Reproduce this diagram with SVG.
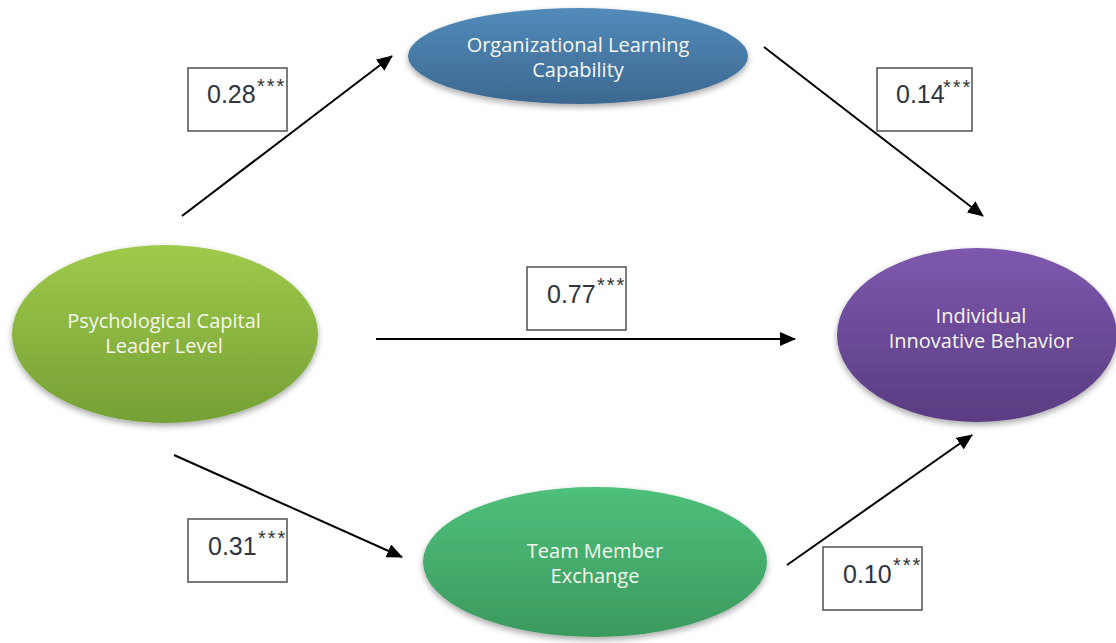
<svg xmlns="http://www.w3.org/2000/svg" width="1116" height="643" viewBox="0 0 1116 643">
  <defs>
    <linearGradient id="gBlue" x1="0" y1="0" x2="0" y2="1">
      <stop offset="0" stop-color="#528bba"/>
      <stop offset="1" stop-color="#3c6890"/>
    </linearGradient>
    <linearGradient id="gLime" x1="0" y1="0" x2="0" y2="1">
      <stop offset="0" stop-color="#9fca4b"/>
      <stop offset="1" stop-color="#75a035"/>
    </linearGradient>
    <linearGradient id="gPurple" x1="0" y1="0" x2="0" y2="1">
      <stop offset="0" stop-color="#7e58ad"/>
      <stop offset="1" stop-color="#5a3c82"/>
    </linearGradient>
    <linearGradient id="gGreen" x1="0" y1="0" x2="0" y2="1">
      <stop offset="0" stop-color="#4fc07b"/>
      <stop offset="1" stop-color="#3b995d"/>
    </linearGradient>
    <filter id="shadow" x="-10%" y="-10%" width="120%" height="130%">
      <feGaussianBlur in="SourceAlpha" stdDeviation="3"/>
      <feOffset dx="0" dy="3" result="b"/>
      <feComponentTransfer><feFuncA type="linear" slope="0.35"/></feComponentTransfer>
      <feMerge><feMergeNode/><feMergeNode in="SourceGraphic"/></feMerge>
    </filter>
    <marker id="arrow" markerUnits="userSpaceOnUse" markerWidth="16" markerHeight="14" refX="15" refY="7" orient="auto">
      <path d="M0,0 L16,7 L0,14 Z" fill="#000"/>
    </marker>
    <style>
      .node-label { font-family: "Open Sans", "Liberation Sans", sans-serif; font-size: 20px; fill: #f6f6f0; text-anchor: middle; }
      .box { fill: #fff; stroke: #5a5a5a; stroke-width: 1.6; }
      .coef { font-family: "Liberation Sans", "Open Sans", sans-serif; font-size: 25px; fill: #2f3440; }
      .star { font-family: "Liberation Sans", sans-serif; font-size: 20px; fill: #333; letter-spacing: 2px; }
      .edge { stroke: #000; stroke-width: 2; fill: none; marker-end: url(#arrow); }
    </style>
  </defs>

  <rect width="1116" height="643" fill="#fff"/>

  <!-- connectors -->
  <g id="connectors">
    <line class="edge" x1="182" y1="216" x2="392" y2="56"/>
    <line class="edge" x1="764" y1="47" x2="983" y2="216"/>
    <line class="edge" x1="376" y1="339" x2="795" y2="339"/>
    <line class="edge" x1="174" y1="455" x2="402" y2="557"/>
    <line class="edge" x1="787" y1="565" x2="972" y2="435"/>
  </g>

  <!-- path coefficients (value + significance stars as superscript) -->
  <g id="coef-olc">
    <rect class="box" x="188" y="68" width="99" height="63"/>
    <text class="coef" x="207" y="103">0.28</text>
    <text class="star" x="257" y="93">***</text>
  </g>
  <g id="coef-iib">
    <rect class="box" x="877" y="68" width="95" height="63"/>
    <text class="coef" x="896" y="103">0.14</text>
    <text class="star" x="943" y="94">***</text>
  </g>
  <g id="coef-direct">
    <rect class="box" x="527" y="267" width="99" height="63"/>
    <text class="coef" x="547" y="303">0.77</text>
    <text class="star" x="597" y="292">***</text>
  </g>
  <g id="coef-tmx">
    <rect class="box" x="188" y="519" width="99" height="63"/>
    <text class="coef" x="208" y="555">0.31</text>
    <text class="star" x="258" y="545">***</text>
  </g>
  <g id="coef-tmx-iib">
    <rect class="box" x="823" y="547" width="99" height="63"/>
    <text class="coef" x="843" y="583">0.10</text>
    <text class="star" x="893" y="572">***</text>
  </g>

  <!-- nodes -->
  <g id="node-olc">
    <ellipse cx="578" cy="56" rx="170" ry="48" fill="url(#gBlue)" filter="url(#shadow)"/>
    <text class="node-label" x="578" y="52">Organizational Learning</text>
    <text class="node-label" x="578" y="77">Capability</text>
  </g>
  <g id="node-pcl">
    <ellipse cx="165" cy="334" rx="153" ry="89" fill="url(#gLime)" filter="url(#shadow)"/>
    <text class="node-label" x="164" y="328">Psychological Capital</text>
    <text class="node-label" x="164" y="353">Leader Level</text>
  </g>
  <g id="node-iib">
    <ellipse cx="977" cy="335" rx="140" ry="87" fill="url(#gPurple)" filter="url(#shadow)"/>
    <text class="node-label" x="981" y="323">Individual</text>
    <text class="node-label" x="981" y="348">Innovative Behavior</text>
  </g>
  <g id="node-tmx">
    <ellipse cx="595" cy="562" rx="172" ry="75" fill="url(#gGreen)" filter="url(#shadow)"/>
    <text class="node-label" x="595" y="558">Team Member</text>
    <text class="node-label" x="595" y="583">Exchange</text>
  </g>
</svg>
